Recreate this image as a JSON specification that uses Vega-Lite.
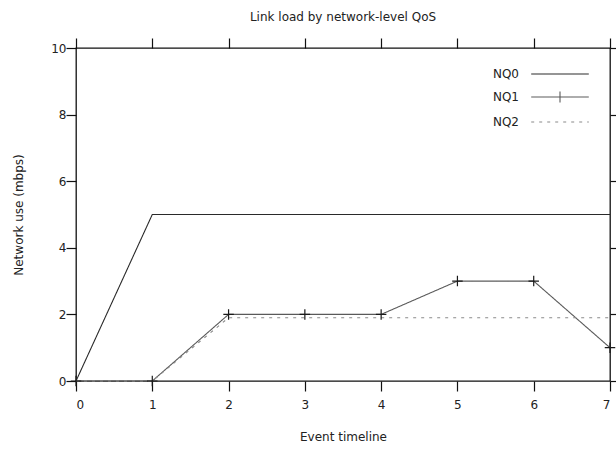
{
  "$schema": "https://vega.github.io/schema/vega-lite/v6.json",
  "autosize": {"type": "none"},
  "width": 534,
  "height": 333,
  "padding": {"left": 76, "top": 48, "right": 6, "bottom": 72},
  "background": "#ffffff",
  "title": {
    "text": "Link load by network-level QoS",
    "font": "DejaVu Sans",
    "fontSize": 12,
    "fontWeight": "normal",
    "color": "#222222",
    "offset": 13
  },
  "data": {
    "values": [
      {"series": "NQ0", "t": 0, "load": 0},
      {"series": "NQ0", "t": 1, "load": 5},
      {"series": "NQ0", "t": 2, "load": 5},
      {"series": "NQ0", "t": 3, "load": 5},
      {"series": "NQ0", "t": 4, "load": 5},
      {"series": "NQ0", "t": 5, "load": 5},
      {"series": "NQ0", "t": 6, "load": 5},
      {"series": "NQ0", "t": 7, "load": 5},
      {"series": "NQ1", "t": 0, "load": 0},
      {"series": "NQ1", "t": 1, "load": 0},
      {"series": "NQ1", "t": 2, "load": 2},
      {"series": "NQ1", "t": 3, "load": 2},
      {"series": "NQ1", "t": 4, "load": 2},
      {"series": "NQ1", "t": 5, "load": 3},
      {"series": "NQ1", "t": 6, "load": 3},
      {"series": "NQ1", "t": 7, "load": 1},
      {"series": "NQ2", "t": 0, "load": 0},
      {"series": "NQ2", "t": 1, "load": 0},
      {"series": "NQ2", "t": 2, "load": 1.9},
      {"series": "NQ2", "t": 3, "load": 1.9},
      {"series": "NQ2", "t": 4, "load": 1.9},
      {"series": "NQ2", "t": 5, "load": 1.9},
      {"series": "NQ2", "t": 6, "load": 1.9},
      {"series": "NQ2", "t": 7, "load": 1.9}
    ]
  },
  "layer": [
    {
      "mark": {"type": "line", "strokeWidth": 1.1},
      "encoding": {
        "x": {
          "field": "t",
          "type": "quantitative",
          "scale": {"domain": [0, 7], "nice": false, "zero": false},
          "axis": {
            "title": "Event timeline",
            "values": [0, 1, 2, 3, 4, 5, 6, 7],
            "format": "d",
            "grid": false,
            "domain": false,
            "ticks": true,
            "tickSize": 10,
            "tickColor": "#111111",
            "tickWidth": 1.2,
            "labelPadding": 8,
            "titlePadding": 21
          }
        },
        "y": {
          "field": "load",
          "type": "quantitative",
          "scale": {"domain": [0, 10], "nice": false},
          "axis": {
            "title": "Network use (mbps)",
            "values": [0, 2, 4, 6, 8, 10],
            "grid": false,
            "domain": false,
            "ticks": true,
            "tickSize": 10,
            "tickColor": "#111111",
            "tickWidth": 1.2,
            "labelPadding": 0,
            "titlePadding": 25
          }
        },
        "color": {
          "field": "series",
          "type": "nominal",
          "scale": {"domain": ["NQ0", "NQ1", "NQ2"], "range": ["#2a2a2a", "#5a5a5a", "#8a8a8a"]},
          "legend": {
            "title": null,
            "orient": "none",
            "legendX": 471,
            "legendY": 13,
            "padding": 0,
            "symbolType": "M-2.4,0H2.4",
            "symbolSize": 576,
            "symbolStrokeWidth": 1.1,
            "rowPadding": 4,
            "labelAlign": "right",
            "labelOffset": -54,
            "labelFont": "DejaVu Sans",
            "labelFontSize": 12,
            "labelColor": "#222222",
            "encode": {
              "symbols": {
                "update": {
                  "shape": {"signal": "datum.label == 'NQ1' ? 'M-2.4,0H2.4M0,-0.45V0.45' : 'M-2.4,0H2.4'"}
                }
              }
            }
          }
        },
        "strokeDash": {
          "field": "series",
          "type": "nominal",
          "scale": {"domain": ["NQ0", "NQ1", "NQ2"], "range": [[1, 0], [1, 0], [3, 5]]},
          "legend": null
        }
      }
    },
    {
      "transform": [{"filter": "datum.series == 'NQ1'"}],
      "mark": {
        "type": "point",
        "shape": "M-1,0H1M0,-1V1",
        "size": 110,
        "filled": false,
        "stroke": "#1a1a1a",
        "strokeWidth": 1.2,
        "opacity": 1
      },
      "encoding": {
        "x": {
          "field": "t",
          "type": "quantitative",
          "axis": {
            "orient": "top",
            "values": [0, 1, 2, 3, 4, 5, 6, 7],
            "labels": false,
            "title": null,
            "grid": false,
            "domain": false,
            "ticks": true,
            "tickSize": 10,
            "tickColor": "#111111",
            "tickWidth": 1.2
          }
        },
        "y": {
          "field": "load",
          "type": "quantitative",
          "axis": {
            "orient": "right",
            "values": [0, 2, 4, 6, 8, 10],
            "labels": false,
            "title": null,
            "grid": false,
            "domain": false,
            "ticks": true,
            "tickSize": 10,
            "tickColor": "#111111",
            "tickWidth": 1.2
          }
        }
      }
    }
  ],
  "resolve": {"axis": {"x": "independent", "y": "independent"}},
  "config": {
    "view": {"stroke": "#111111", "strokeWidth": 1.3},
    "axis": {
      "labelFont": "DejaVu Sans",
      "labelFontSize": 12,
      "labelColor": "#222222",
      "titleFont": "DejaVu Sans",
      "titleFontSize": 12,
      "titleFontWeight": "normal",
      "titleColor": "#222222"
    }
  }
}
